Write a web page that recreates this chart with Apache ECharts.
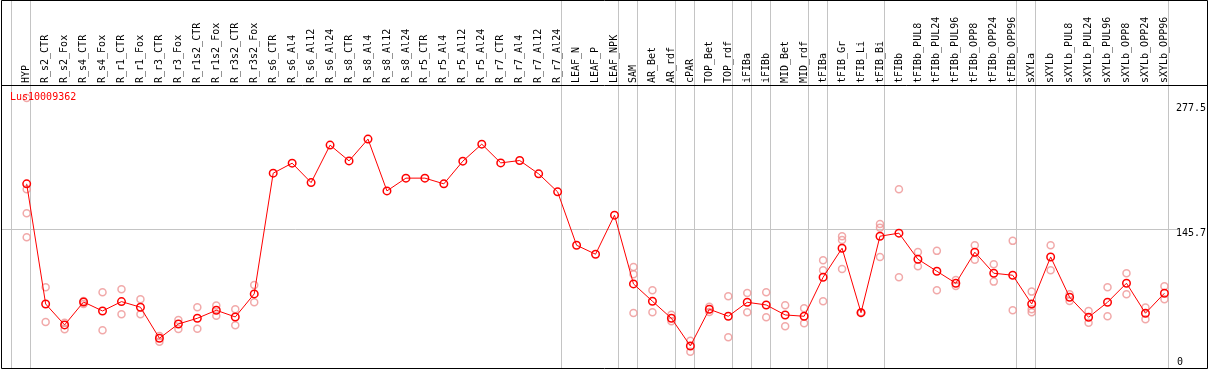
<!DOCTYPE html>
<html><head><meta charset="utf-8">
<script src="https://cdn.jsdelivr.net/npm/echarts@6/dist/echarts.min.js"></script>
<style>html,body{margin:0;padding:0;background:#fff}#c{width:1209px;height:370px}</style>
</head><body><div id="c"></div>
<script>
const chartTitle = 'Lus10009362';
const categories = ['HYP','R_s2_CTR','R_s2_Fox','R_s4_CTR','R_s4_Fox','R_r1_CTR','R_r1_Fox','R_r3_CTR','R_r3_Fox','R_r1s2_CTR','R_r1s2_Fox','R_r3s2_CTR','R_r3s2_Fox','R_s6_CTR','R_s6_Al4','R_s6_Al12','R_s6_Al24','R_s8_CTR','R_s8_Al4','R_s8_Al12','R_s8_Al24','R_r5_CTR','R_r5_Al4','R_r5_Al12','R_r5_Al24','R_r7_CTR','R_r7_Al4','R_r7_Al12','R_r7_Al24','LEAF_N','LEAF_P','LEAF_NPK','SAM','AR_Bet','AR_rdf','cPAR','TOP_Bet','TOP_rdf','iFIBa','iFIBb','MID_Bet','MID_rdf','tFIBa','tFIB_Gr','tFIB_Li','tFIB_Bi','tFIBb','tFIBb_PUL8','tFIBb_PUL24','tFIBb_PUL96','tFIBb_OPP8','tFIBb_OPP24','tFIBb_OPP96','sXYLa','sXYLb','sXYLb_PUL8','sXYLb_PUL24','sXYLb_PUL96','sXYLb_OPP8','sXYLb_OPP24','sXYLb_OPP96'];
const meanValues = [192.9,66.7,44.7,68.8,59.4,69.2,63.3,30.7,45.7,51.7,60.1,53.1,77.3,204.1,214.6,194.2,233.6,217.0,239.9,185.5,198.9,198.9,192.9,216.7,234.6,214.9,217.4,203.4,184.5,128.4,119.0,160.0,87.8,69.6,51.7,22.6,61.2,53.8,68.5,65.7,55.2,53.8,94.8,125.3,57.6,137.9,141.1,113.7,101.1,88.5,121.1,99.0,96.9,66.7,116.1,73.8,52.8,68.5,88.5,57.0,78.0];
const rep1 = [187.3,84.3,47.1,69.9,79.0,82.2,71.7,33.1,49.9,63.3,65.0,61.2,86.7,null,null,null,null,null,null,null,null,null,null,null,null,null,null,null,null,null,null,null,105.6,81.1,55.5,28.2,63.9,74.8,78.3,79.0,65.4,62.2,112.7,137.9,58.0,150.8,187.3,121.4,122.5,92.0,128.4,108.5,133.0,79.7,128.4,76.9,59.4,84.3,99.0,62.9,85.3];
const rep2 = [162.1,47.8,40.2,66.7,39.1,55.9,55.9,27.1,40.5,40.8,54.4,44.4,68.5,null,null,null,null,null,null,null,null,null,null,null,null,null,null,null,null,null,null,null,57.3,58.0,48.6,16.6,58.3,31.7,58.0,52.8,43.3,46.5,69.6,103.5,57.3,116.1,94.8,106.4,81.1,85.7,113.3,90.2,60.1,58.0,102.2,69.9,47.1,53.8,76.9,50.7,71.7];
const rep3 = [136.9,null,null,null,null,null,null,null,null,null,null,null,null,null,null,null,null,null,null,null,null,null,null,null,null,null,null,null,null,null,null,null,98.0,null,null,null,null,null,null,null,null,null,102.2,134.0,null,146.9,null,null,null,null,null,null,null,61.2,null,null,null,null,null,null,null];
const rep4 = [283.0,null,null,null,null,null,null,null,null,null,null,null,null,null,null,null,null,null,null,null,null,null,null,null,null,null,null,null,null,null,null,null,null,null,null,null,null,null,null,null,null,null,null,null,null,null,null,null,null,null,null,null,null,null,null,null,null,null,null,null,null];
const yMin = 0, yMax = 277.5;
const yLabelsUpper = [145.7, 277.5];
const yLabelsLower = [0];
const refLine = 145.7;
const groupEnds = ['HYP','R_r7_Al24','LEAF_NPK','SAM','AR_rdf','cPAR','TOP_rdf','iFIBa','iFIBb','MID_rdf','tFIBa','tFIB_Bi','tFIBb_OPP96','sXYLa','sXYLb_OPP96'];

const FONT = 'DejaVu Sans Mono';
const repData = [];
[rep1, rep2, rep3, rep4].forEach(arr => arr.forEach((v, i) => { if (v != null) repData.push([categories[i], v]); }));

const chart = echarts.init(document.getElementById('c'), null, {renderer: 'canvas'});
const yAxisBase = {
  type: 'value', min: yMin, max: yMax, position: 'right',
  axisLine: {show: false}, axisTick: {show: false}, splitLine: {show: false}
};
chart.setOption({
  animation: false,
  backgroundColor: '#fff',
  title: {text: chartTitle, left: 10, top: 92, padding: 0,
    textStyle: {color: '#ff0000', fontSize: 10, fontWeight: 'normal', fontFamily: FONT}},
  grid: {left: 17.2, right: 32.8, top: 103.3, bottom: 2.5},
  xAxis: {
    type: 'category', data: categories, position: 'top', offset: 18.3,
    axisLine: {show: false}, axisTick: {show: false}, splitLine: {show: false},
    axisLabel: {rotate: 90, interval: 0, margin: 2, color: '#000', fontSize: 10, fontFamily: FONT}
  },
  yAxis: [
    Object.assign({}, yAxisBase, {axisLabel: {customValues: yLabelsUpper, verticalAlign: 'top', margin: 2, color: '#000', fontSize: 10, fontFamily: FONT, formatter: v => String(v)}}),
    Object.assign({}, yAxisBase, {axisLabel: {customValues: yLabelsLower, verticalAlign: 'bottom', margin: 3, color: '#000', fontSize: 10, fontFamily: FONT, formatter: v => String(v)}})
  ],
  series: [
    {type: 'scatter', data: repData, symbol: 'circle', symbolSize: 7, clip: false, z: 2,
     itemStyle: {color: 'rgba(0,0,0,0)', borderColor: '#ee9494', borderWidth: 1.5}},
    {type: 'line', data: meanValues, symbol: 'circle', symbolSize: 7.5, showAllSymbol: true, z: 3,
     lineStyle: {color: '#ff0000', width: 1},
     itemStyle: {color: 'rgba(0,0,0,0)', borderColor: '#ff0000', borderWidth: 1.5}}
  ]
});

const px = c => chart.convertToPixel({xAxisIndex: 0}, c);
const band = px(categories[1]) - px(categories[0]);
const yRef = Math.round(chart.convertToPixel({yAxisIndex: 0}, refLine)) + 0.5;
const gray = '#c4c4c4';
const graphics = [];
const vx = [px(categories[0]) - band * 0.84].concat(groupEnds.map(c => px(c) + band * 0.19));
vx.forEach(x => {
  const xx = Math.round(x) + 0.5;
  graphics.push({type: 'line', z: 0, shape: {x1: xx, y1: 0, x2: xx, y2: 368}, style: {stroke: gray, lineWidth: 1}});
});
graphics.push({type: 'line', z: 0, shape: {x1: 1, y1: yRef, x2: 1178, y2: yRef}, style: {stroke: gray, lineWidth: 1}});
graphics.push({type: 'line', z: 1, shape: {x1: 1, y1: 85.5, x2: 1208, y2: 85.5}, style: {stroke: '#000', lineWidth: 1}});
graphics.push({type: 'rect', z: 1, shape: {x: 1.5, y: 0.5, width: 1206, height: 368}, style: {fill: 'none', stroke: '#000', lineWidth: 1}});
chart.setOption({graphic: graphics});
</script>
</body></html>
